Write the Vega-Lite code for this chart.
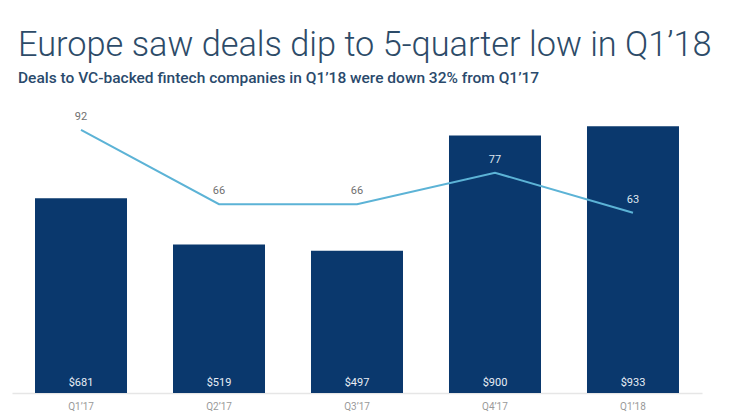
{
  "$schema": "https://vega.github.io/schema/vega-lite/v6.json",
  "width": 690,
  "height": 286,
  "autosize": "none",
  "padding": {"left": 12, "top": 107, "right": 38, "bottom": 24},
  "background": "white",
  "title": {
    "text": "Europe saw deals dip to 5-quarter low in Q1’18",
    "subtitle": "Deals to VC-backed fintech companies in Q1’18 were down 32% from Q1’17",
    "anchor": "start",
    "frame": "group",
    "dx": 6,
    "offset": 21,
    "font": "Roboto",
    "fontSize": 34.3,
    "fontWeight": 300,
    "color": "#2d4b68",
    "subtitleFont": "Roboto",
    "subtitleFontSize": 15.5,
    "subtitleFontWeight": 500,
    "subtitleColor": "#2a4a6c",
    "subtitlePadding": 7
  },
  "data": {
    "values": [
      {"quarter": "Q1’17", "amount": 681, "label": "$681", "deals": 92},
      {"quarter": "Q2’17", "amount": 519, "label": "$519", "deals": 66},
      {"quarter": "Q3’17", "amount": 497, "label": "$497", "deals": 66},
      {"quarter": "Q4’17", "amount": 900, "label": "$900", "deals": 77},
      {"quarter": "Q1’18", "amount": 933, "label": "$933", "deals": 63}
    ]
  },
  "encoding": {
    "x": {
      "field": "quarter",
      "type": "nominal",
      "sort": null,
      "scale": {"paddingInner": 0.3333, "paddingOuter": 0.1667},
      "axis": {
        "title": null,
        "labelAngle": 0,
        "labelColor": "#9a9a9a",
        "labelFontSize": 10,
        "labelFont": "Roboto",
        "labelPadding": 8,
        "ticks": false,
        "domainColor": "#e6e6e6",
        "domainWidth": 1.5
      }
    }
  },
  "layer": [
    {
      "mark": {"type": "bar", "color": "#0a386d"},
      "encoding": {
        "y": {"field": "amount", "type": "quantitative", "scale": {"domain": [0, 1000]}, "axis": null}
      }
    },
    {
      "mark": {"type": "text", "color": "#e8eef5", "fontSize": 11, "font": "Roboto", "dy": -10},
      "encoding": {
        "y": {"datum": 0, "type": "quantitative", "scale": {"domain": [0, 1000]}, "axis": null},
        "text": {"field": "label"}
      }
    },
    {
      "mark": {"type": "line", "color": "#5cb3d6", "strokeWidth": 2},
      "encoding": {
        "y": {"field": "deals", "type": "quantitative", "scale": {"domain": [0, 100]}, "axis": null}
      }
    },
    {
      "mark": {"type": "text", "fontSize": 11, "font": "Roboto", "dy": -13},
      "encoding": {
        "y": {"field": "deals", "type": "quantitative", "scale": {"domain": [0, 100]}, "axis": null},
        "text": {"field": "deals"},
        "color": {
          "condition": {"test": "datum.quarter === 'Q1’18' || datum.quarter === 'Q4’17'", "value": "#dfe6ee"},
          "value": "#707070"
        }
      }
    }
  ],
  "resolve": {"scale": {"y": "independent"}},
  "config": {"view": {"stroke": null}}
}
